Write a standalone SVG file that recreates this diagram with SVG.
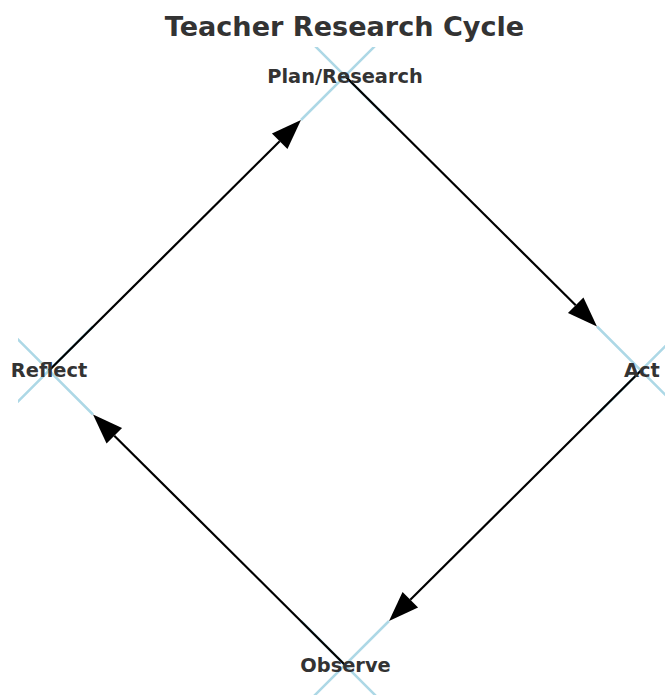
<svg xmlns="http://www.w3.org/2000/svg" width="665" height="696" viewBox="0 0 665 696">
  <style>
    .mk { stroke: #add8e6; stroke-width: 2.5; fill: none; }
    .edge { stroke: #000; stroke-width: 2.2; fill: none; marker-end: url(#ah); }
    .lbl { font-family: "DejaVu Sans", "Liberation Sans", sans-serif; font-weight: bold; font-size: 19.4px; fill: #333; text-anchor: middle; }
    .title { font-family: "DejaVu Sans", "Liberation Sans", sans-serif; font-weight: bold; font-size: 27.1px; fill: #333; text-anchor: middle; }
  </style>
  <defs>
    <clipPath id="ax"><rect x="18" y="47" width="660" height="648"/></clipPath>
    <marker id="ah" markerUnits="userSpaceOnUse" viewBox="0 -11 30 22" refX="0" refY="0" markerWidth="30" markerHeight="22" orient="auto" overflow="visible">
      <path d="M0,-11 L30,0 L0,11 z" fill="#000"/>
    </marker>
  </defs>
  <rect width="665" height="696" fill="#fff"/>
  <text class="title" x="344.5" y="36">Teacher Research Cycle</text>
  <g clip-path="url(#ax)">
    <g id="plan"><path class="mk" d="M301,32 L389,120 M301,120 L389,32"/></g>
    <g id="act"><path class="mk" d="M597,326.5 L685,414.5 M597,414.5 L685,326.5"/></g>
    <g id="observe"><path class="mk" d="M301,621 L389,709 M301,709 L389,621"/></g>
    <g id="reflect"><path class="mk" d="M5,326.5 L93,414.5 M5,414.5 L93,326.5"/></g>
  </g>
  <g id="edges">
    <path class="edge" d="M345,76 L575.7,305.3"/>
    <path class="edge" d="M641,370.5 L410.3,599.8"/>
    <path class="edge" d="M345,665 L114.3,435.7"/>
    <path class="edge" d="M49,370.5 L279.7,141.2"/>
  </g>
  <g id="labels">
    <text class="lbl" x="345" y="83">Plan/Research</text>
    <text class="lbl" x="642" y="377">Act</text>
    <text class="lbl" x="345.5" y="672">Observe</text>
    <text class="lbl" x="49" y="377">Reflect</text>
  </g>
</svg>
